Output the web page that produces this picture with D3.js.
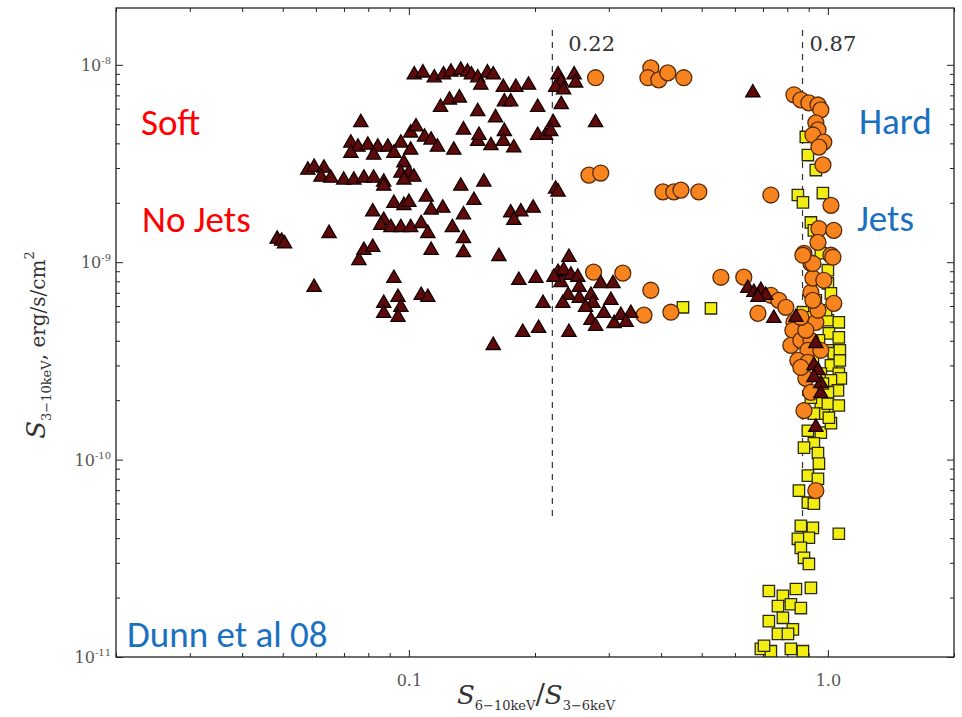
<!DOCTYPE html>
<html>
<head>
<meta charset="utf-8">
<script src="https://cdn.jsdelivr.net/npm/d3@7"></script>
<style>
  html, body { margin: 0; padding: 0; background: #ffffff; }
  svg { display: block; }
</style>
</head>
<body>
<svg id="chart" width="962" height="717"></svg>
<script>
// Hardness ratio S(6-10 keV)/S(3-6 keV) versus 3-10 keV flux (flux in units of 1e-9 erg/s/cm^2)
const fluxUnit = 1e-9;

// Soft state, no jets (triangles)
const softStates = [
  [0.103,8.9],[0.108,9.1],[0.115,8.6],[0.121,8.9],[0.126,9.2],[0.133,9.4],[0.138,9.2],[0.141,8.9],
  [0.146,8.6],[0.1485,7.9],[0.154,9.1],[0.159,8.9],[0.168,7.7],[0.180,7.7],[0.193,7.9],[0.227,8.9],
  [0.231,8.2],[0.248,8.9],[0.250,8.1],[0.224,7.7],[0.234,7.47],[0.231,6.3],[0.203,6.1],[0.119,6.1],
  [0.125,6.64],[0.132,6.8],[0.146,5.8],[0.161,5.4],[0.169,6.5],[0.175,6.5],[0.279,5.1],[0.221,5.1],
  [0.0768,5.1],[0.135,4.68],[0.146,4.1],[0.147,4.4],[0.169,4.6],[0.157,3.9],[0.168,4.1],[0.178,3.8],
  [0.203,4.4],[0.212,4.4],[0.218,4.6],[0.151,2.55],[0.224,2.35],
  [0.0727,4.02],[0.0756,3.83],[0.0798,3.92],[0.0843,3.83],[0.0891,3.83],[0.0957,4.02],[0.101,4.52],
  [0.104,4.85],[0.109,4.31],[0.113,4.16],[0.117,3.83],[0.128,3.70],[0.0727,3.57],[0.0824,3.49],
  [0.101,3.70],[0.0921,3.57],[0.0973,3.19],[0.100,2.83],[0.1028,2.70],
  [0.0574,2.93],[0.0594,3.03],[0.0627,3.00],[0.0617,2.70],[0.0651,2.67],[0.0699,2.61],[0.0739,2.61],
  [0.0781,2.67],[0.0824,2.67],[0.0871,2.55],[0.0871,2.43],[0.0957,2.83],[0.0973,2.61],[0.133,2.43],[0.143,2.06],
  [0.0820,1.80],[0.0871,1.63],[0.0857,1.54],[0.0921,1.99],[0.0973,1.94],[0.100,2.01],[0.110,2.14],
  [0.113,1.84],[0.1205,1.88],[0.0906,1.50],[0.0957,1.50],[0.101,1.50],[0.107,1.57],[0.111,1.40],
  [0.127,1.50],[0.135,1.74],[0.135,1.32],[0.135,1.12],[0.113,1.15],[0.0760,1.02],[0.0781,1.15],
  [0.0820,1.19],[0.0485,1.31],[0.0497,1.28],[0.0505,1.24],[0.0645,1.40],[0.175,1.78],[0.185,1.80],
  [0.198,1.88],[0.178,1.63],[0.164,1.07],[0.227,2.27],
  [0.0921,0.83],[0.0594,0.746],[0.0871,0.619],[0.0942,0.664],[0.0957,0.591],[0.0871,0.551],[0.0942,0.526],
  [0.107,0.68],[0.111,0.664],[0.241,1.06],[0.183,0.81],[0.201,0.83],[0.227,0.89],[0.234,0.911],
  [0.2436,0.86],[0.253,0.84],[0.2306,0.79],[0.255,0.746],[0.287,0.78],[0.307,0.78],[0.209,0.619],
  [0.240,0.68],[0.233,0.619],[0.255,0.657],[0.272,0.68],[0.275,0.619],[0.264,0.591],[0.3035,0.641],
  [0.292,0.551],[0.272,0.508],[0.279,0.474],[0.309,0.490],[0.3206,0.539],[0.3387,0.551],[0.330,0.496],
  [0.187,0.442],[0.204,0.463],[0.241,0.442],[0.159,0.379],[0.222,0.84],[0.662,7.21],
  [0.644,0.738],[0.666,0.704],[0.692,0.721],[0.711,0.68],[0.681,0.664],[0.743,0.52],[0.839,0.526],
  [0.936,0.388],[0.926,0.300],[0.947,0.283],[0.962,0.243],[0.962,0.216],[0.936,0.146],[0.926,0.261]
];

// Intermediate states (circles)
const intermediateStates = [
  [0.279,8.6],[0.378,9.65],[0.372,8.6],[0.395,8.39],[0.415,9.1],[0.453,8.6],
  [0.830,7.05],[0.862,6.64],[0.901,6.41],[0.947,6.26],[0.962,5.91],[0.936,5.08],[0.947,4.68],
  [0.921,4.41],[0.978,4.06],[0.952,3.83],[0.973,3.11],
  [0.269,2.76],[0.287,2.83],[0.404,2.27],[0.429,2.27],[0.446,2.32],[0.492,2.27],[0.731,2.19],[1.017,1.94],
  [0.952,1.48],[1.033,1.45],[0.947,1.26],[0.877,1.11],[1.017,1.085],[0.911,0.985],
  [0.276,0.89],[0.324,0.88],[0.378,0.721],[0.5555,0.839],[0.630,0.84],
  [0.364,0.539],[0.422,0.558],[0.681,0.551],
  [0.731,0.68],[0.764,0.641],[0.794,0.591],[0.830,0.496],[0.825,0.452],[0.816,0.379],[0.862,0.402],
  [0.911,0.402],[0.896,0.358],[0.936,0.496],[0.947,0.571],[0.911,0.704],[0.921,0.83],[0.921,0.985],
  [0.872,1.085],[1.028,1.06],[1.033,0.619],[0.848,0.318],[0.896,0.311],[0.886,0.258],[0.911,0.219],
  [0.877,0.177],[0.936,0.0696],[0.862,0.293],
  [0.886,0.452],[0.962,0.358],[0.921,0.641],[0.862,0.526],[0.978,0.81]
];

// Hard state, jets (squares)
const hardStates = [
  [0.886,4.31],[0.896,3.49],[0.936,2.93],[0.848,2.19],[0.872,2.01],[0.973,2.24],[0.911,1.59],[0.926,1.45],
  [0.451,0.591],[0.526,0.584],
  [0.962,1.11],[1.0,0.911],[1.0,0.782],[1.017,0.696],[0.872,0.558],[0.896,0.526],[1.0,0.508],[1.062,0.496],
  [1.0055,0.436],[1.062,0.416],[1.0,0.358],[1.033,0.346],[1.017,0.300],[0.962,0.273],[1.062,0.273],
  [1.074,0.258],[1.017,0.252],[1.057,0.224],[1.0,0.219],[0.962,0.194],[0.978,0.171],[0.926,0.171],
  [0.896,0.140],[0.962,0.137],[0.926,0.121],[0.877,0.115],[1.017,0.153],[0.911,0.206],[1.0,0.192],[1.0055,0.163],
  [0.947,0.108],[0.952,0.0955],[0.896,0.083],[0.947,0.080],[0.853,0.0696],[0.896,0.0605],[0.926,0.0598],
  [0.862,0.0462],[0.921,0.0451],[0.901,0.0402],[0.848,0.0397],[0.862,0.0357],[0.877,0.0318],[0.901,0.0296],
  [1.062,0.0421],
  [0.723,0.0216],[0.781,0.0204],[0.839,0.0221],[0.911,0.0224],[0.760,0.0181],[0.816,0.0185],[0.862,0.0177],
  [0.723,0.0152],[0.781,0.0158],[0.825,0.0138],[0.760,0.0131],[0.803,0.0131],[0.692,0.0110],[0.731,0.0107],
  [0.816,0.0110],[0.872,0.0107],[0.704,0.0114],
  [0.936,0.641],[0.990,0.571],[0.952,0.402],[1.068,0.358],[0.921,0.318],[0.973,0.243],[1.062,0.188],[1.068,0.318]
];

// Hardness thresholds drawn as dashed verticals
const thresholds = [0.22, 0.87];
const thresholdLabels = ["0.22", "0.87"];
const thresholdSpan = [5e-11, 1.5e-8];

// Axis ticks
const ratioMajor = [0.1, 1.0];
const ratioMajorLabels = ["0.1", "1.0"];
const ratioMinor = [0.02,0.03,0.04,0.05,0.06,0.07,0.08,0.09,0.2,0.3,0.4,0.5,0.6,0.7,0.8,0.9,2];
const fluxMajor = [1e-11, 1e-10, 1e-9, 1e-8];
const fluxMajorExp = ["-11", "-10", "-9", "-8"];
const fluxMinor = [];
[1e-11, 1e-10, 1e-9, 1e-8].forEach(d => { for (let k = 2; k <= 9; k++) fluxMinor.push(d * k); });

// Region annotations
const regionNotes = [
  { text: "Soft", color: "#ff0000", x: 141, y: 135 },
  { text: "No Jets", color: "#ff0000", x: 142, y: 232 },
  { text: "Hard", color: "#1a70c0", x: 859, y: 134 },
  { text: "Jets", color: "#1a70c0", x: 857, y: 231 },
  { text: "Dunn et al 08", color: "#1a70c0", x: 127, y: 647 }
];

const L = 116, R = 954, T = 8, B = 657;
const svg = d3.select("#chart");

const x = d3.scaleLog().domain([0.02, 2]).range([L, R]);
const y = d3.scaleLog().domain([1e-11, 1.94e-8]).range([B, T]);

svg.append("defs").append("clipPath").attr("id", "clip")
  .append("rect").attr("x", L).attr("y", T).attr("width", R - L).attr("height", B - T);

// Axes (ticks point inward)
const serif = '"DejaVu Serif", "Liberation Serif", serif';
function styleAxis(g) {
  g.select(".domain").remove();
  g.selectAll(".tick line").attr("stroke", "#222").attr("stroke-width", 1);
}
svg.append("g").attr("transform", `translate(0,${B})`)
  .call(d3.axisBottom(x).tickValues(ratioMinor).tickSize(-4).tickFormat(""))
  .call(styleAxis);
const xb = svg.append("g").attr("transform", `translate(0,${B})`)
  .call(d3.axisBottom(x).tickValues(ratioMajor).tickSize(-7).tickPadding(18)
    .tickFormat((d, i) => ratioMajorLabels[i]))
  .call(styleAxis);
xb.selectAll(".tick text").attr("font-size", 16).attr("fill", "#555").attr("font-family", serif);

svg.append("g").attr("transform", `translate(0,${T})`)
  .call(d3.axisTop(x).tickValues(ratioMinor).tickSize(-4).tickFormat("")).call(styleAxis);
svg.append("g").attr("transform", `translate(0,${T})`)
  .call(d3.axisTop(x).tickValues(ratioMajor).tickSize(-7).tickFormat("")).call(styleAxis);

const visibleMinor = fluxMinor.filter(v => v < 1.94e-8);
svg.append("g").attr("transform", `translate(${L},0)`)
  .call(d3.axisLeft(y).tickValues(visibleMinor).tickSize(-4).tickFormat(""))
  .call(styleAxis);
const yl = svg.append("g").attr("transform", `translate(${L},0)`)
  .call(d3.axisLeft(y).tickValues(fluxMajor).tickSize(-7).tickFormat(""))
  .call(styleAxis);
yl.selectAll(".tick").each(function(d, i) {
  const t = d3.select(this).append("text")
    .attr("x", -5).attr("dy", "0.35em").attr("text-anchor", "end")
    .attr("fill", "#555").attr("font-family", serif).attr("font-size", 16);
  t.append("tspan").text("10");
  t.append("tspan").attr("font-size", 10).attr("dy", "-0.7em").text(fluxMajorExp[i]);
});

svg.append("g").attr("transform", `translate(${R},0)`)
  .call(d3.axisRight(y).tickValues(visibleMinor).tickSize(-4).tickFormat(""))
  .call(styleAxis);
svg.append("g").attr("transform", `translate(${R},0)`)
  .call(d3.axisRight(y).tickValues(fluxMajor).tickSize(-7).tickFormat(""))
  .call(styleAxis);

// Frame
svg.append("rect").attr("x", L).attr("y", T).attr("width", R - L).attr("height", B - T)
  .attr("fill", "none").attr("stroke", "#222").attr("stroke-width", 1.3);

// Threshold lines and labels
thresholds.forEach((t, i) => {
  svg.append("line")
    .attr("x1", x(t)).attr("x2", x(t))
    .attr("y1", y(thresholdSpan[1])).attr("y2", y(thresholdSpan[0]))
    .attr("stroke", "#333").attr("stroke-width", 1.2).attr("stroke-dasharray", "6,6");
  svg.append("text")
    .attr("x", x(t) + (i === 0 ? 16 : 7)).attr("y", 51)
    .attr("font-family", serif).attr("font-size", 21).attr("fill", "#333")
    .text(thresholdLabels[i]);
});

// Markers
const pts = svg.append("g").attr("clip-path", "url(#clip)");
const sq = d3.symbol().type(d3.symbolSquare).size(130);
const ci = d3.symbol().type(d3.symbolCircle).size(200);
const tr = d3.symbol().type(d3.symbolTriangle).size(88);

pts.selectAll("path.hard").data(hardStates).join("path").attr("class", "hard")
  .attr("d", sq).attr("transform", d => `translate(${x(d[0])},${y(d[1] * fluxUnit)})`)
  .attr("fill", "#f2ee12").attr("stroke", "#2a2a08").attr("stroke-width", 1.3);
pts.selectAll("path.mid").data(intermediateStates).join("path").attr("class", "mid")
  .attr("d", ci).attr("transform", d => `translate(${x(d[0])},${y(d[1] * fluxUnit)})`)
  .attr("fill", "#f7841e").attr("stroke", "#5a2a08").attr("stroke-width", 1.3);
pts.selectAll("path.soft").data(softStates).join("path").attr("class", "soft")
  .attr("d", tr).attr("transform", d => `translate(${x(d[0])},${y(d[1] * fluxUnit)})`)
  .attr("fill", "#5e0b0b").attr("stroke", "#140000").attr("stroke-width", 1.3);

// Axis titles
const yt = svg.append("text")
  .attr("transform", "translate(45,345) rotate(-90)")
  .attr("text-anchor", "middle").attr("font-family", serif).attr("fill", "#333");
yt.append("tspan").attr("font-size", 26).attr("font-style", "italic").text("S");
yt.append("tspan").attr("font-size", 13).attr("dy", 6).text("3\u221210keV");
yt.append("tspan").attr("font-size", 20).attr("dy", -6).text(", erg/s/cm");
yt.append("tspan").attr("font-size", 13).attr("dy", -11).text("2");

const xt = svg.append("text")
  .attr("x", 536).attr("y", 704)
  .attr("text-anchor", "middle").attr("font-family", serif).attr("fill", "#333");
xt.append("tspan").attr("font-size", 26).attr("font-style", "italic").text("S");
xt.append("tspan").attr("font-size", 13).attr("dy", 6).text("6\u221210keV");
xt.append("tspan").attr("font-size", 28).attr("dy", -6).text("/");
xt.append("tspan").attr("font-size", 26).attr("font-style", "italic").text("S");
xt.append("tspan").attr("font-size", 13).attr("dy", 6).text("3\u22126keV");

// Region annotations
svg.selectAll("text.note").data(regionNotes).join("text").attr("class", "note")
  .attr("x", d => d.x).attr("y", d => d.y)
  .attr("font-family", "Carlito, Lato, 'Open Sans', sans-serif").attr("font-size", 37)
  .attr("fill", d => d.color).text(d => d.text);
</script>
</body>
</html>
